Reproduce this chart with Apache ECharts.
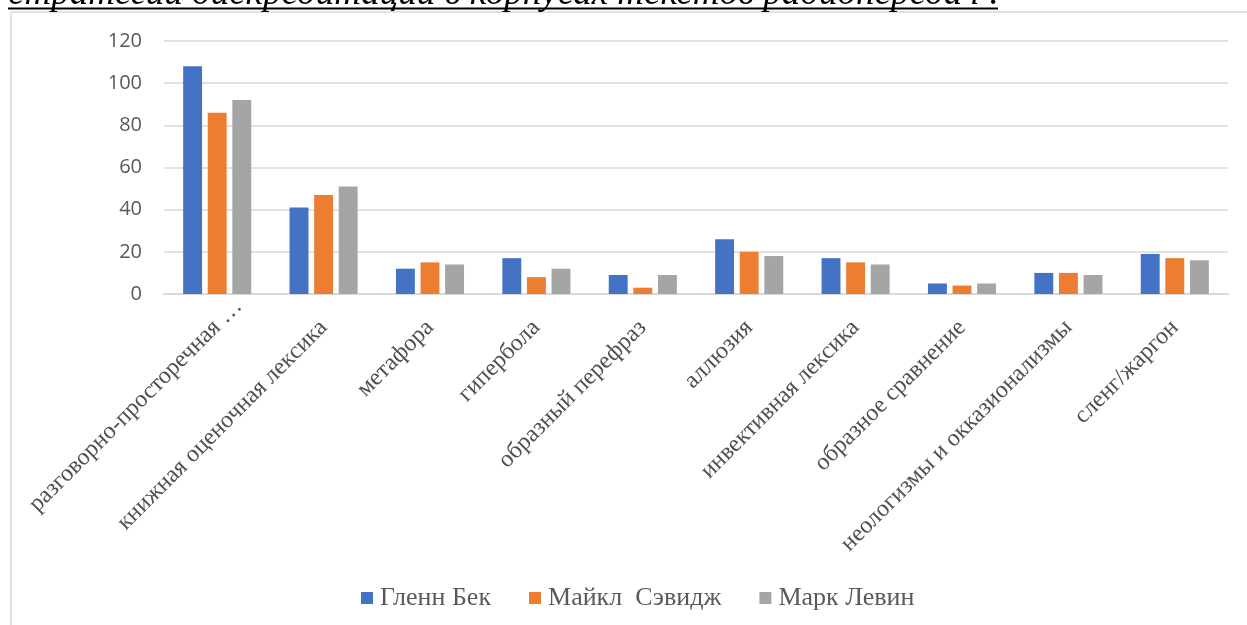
<!DOCTYPE html>
<html>
<head>
<meta charset="utf-8">
<script src="https://cdn.jsdelivr.net/npm/echarts@6/dist/echarts.min.js"></script>
<style>
  html, body { margin: 0; padding: 0; background: #ffffff; }
  #chart { width: 1247px; height: 625px; }
</style>
</head>
<body>
<div id="chart"></div>
<script>
// Categories of discrediting devices
const categories = [
  'разговорно-просторечная …',
  'книжная оценочная лексика',
  'метафора',
  'гипербола',
  'образный перефраз',
  'аллюзия',
  'инвективная лексика',
  'образное сравнение',
  'неологизмы и окказионализмы',
  'сленг/жаргон'
];

// Counts per host
const seriesNames = ['Гленн Бек', 'Майкл  Сэвидж', 'Марк Левин'];
const beck   = [108, 41, 12, 17, 9, 26, 17, 5, 10, 19];
const savage = [86, 47, 15, 8, 3, 20, 15, 4, 10, 17];
const levin  = [92, 51, 14, 12, 9, 18, 14, 5, 9, 16];

const headingText = 'стратегий дискредитации в корпусах текстов радиопередач :';

const colors = ['#4472C4', '#ED7D31', '#A5A5A5'];
const values = [beck, savage, levin];

const chart = echarts.init(document.getElementById('chart'), null, { renderer: 'canvas' });

// the truncated first label sits a little further along its own direction
const categoryData = categories.map((c, i) =>
  i === 0 ? { value: c, textStyle: { padding: [0, -30, 0, 0] } } : c
);

chart.setOption({
  animation: false,
  backgroundColor: '#ffffff',
  color: colors,
  grid: { left: 164, right: 19, top: 41, bottom: 331, containLabel: false },
  legend: {
    left: 356,
    top: 580,
    itemWidth: 12,
    itemHeight: 12,
    itemGap: 38,
    icon: 'rect',
    textStyle: {
      fontFamily: 'Liberation Serif',
      fontSize: 26,
      color: '#595959',
      padding: [0, 0, 0, 2]
    },
    data: seriesNames
  },
  xAxis: {
    type: 'category',
    data: categoryData,
    axisLine: { lineStyle: { color: '#D9D9D9', width: 2 } },
    axisTick: { show: false },
    axisLabel: {
      rotate: 45,
      interval: 0,
      margin: 30,
      fontFamily: 'Liberation Serif',
      fontSize: 24,
      color: '#505050'
    }
  },
  yAxis: {
    type: 'value',
    min: 0,
    max: 120,
    interval: 20,
    axisLine: { show: false },
    axisTick: { show: false },
    splitLine: { lineStyle: { color: '#D9D9D9', width: 1.5 } },
    axisLabel: {
      margin: 22,
      fontFamily: 'Open Sans',
      fontSize: 20,
      color: '#595959'
    }
  },
  series: seriesNames.map((name, i) => ({
    name: name,
    type: 'bar',
    data: values[i],
    barGap: '30%',
    barCategoryGap: '36%',
    itemStyle: { color: colors[i] }
  })),
  graphic: [
    // chart frame (left and top edges)
    { type: 'line', shape: { x1: 11, y1: 12, x2: 1247, y2: 12 }, style: { stroke: '#D9D9D9', lineWidth: 1.5 } },
    { type: 'line', shape: { x1: 11, y1: 12, x2: 11, y2: 625 }, style: { stroke: '#D9D9D9', lineWidth: 1.5 } },
    // heading above the chart with underline
    {
      type: 'text',
      left: 8,
      top: -24.5,
      style: {
        text: headingText,
        font: 'italic 37px "Liberation Serif"',
        fill: '#000000'
      }
    },
    { type: 'rect', shape: { x: 8, y: 7.5, width: 990, height: 2 }, style: { fill: '#000000' } }
  ]
});
</script>
</body>
</html>
